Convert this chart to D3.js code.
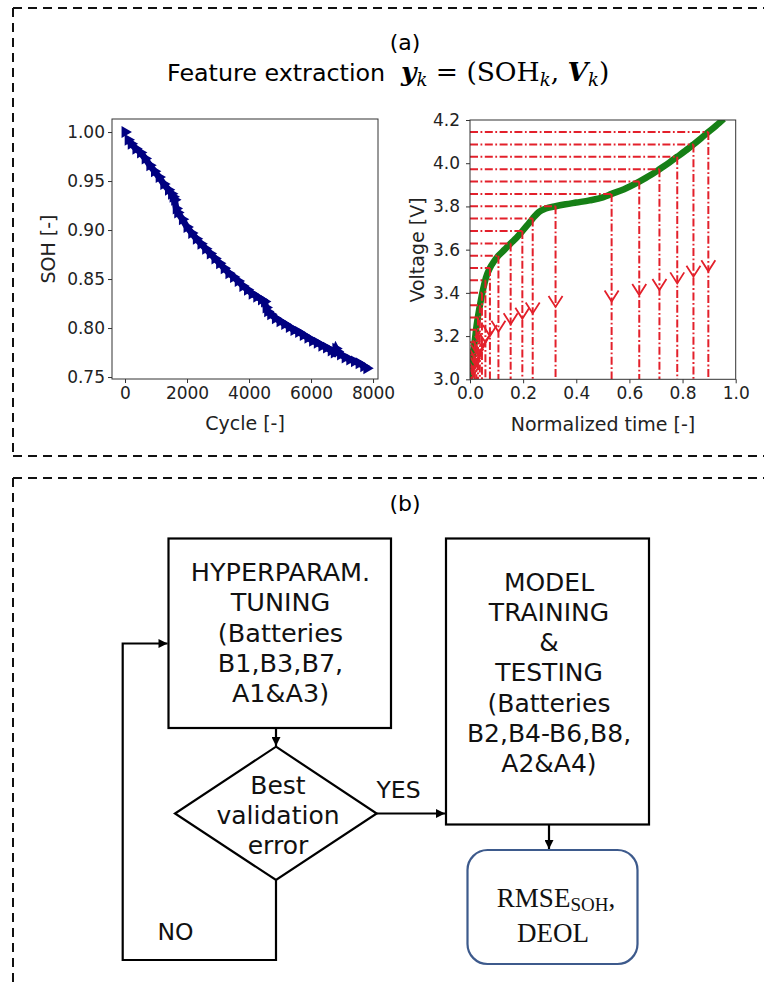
<!DOCTYPE html>
<html>
<head>
<meta charset="utf-8">
<script src="https://cdn.jsdelivr.net/npm/d3@7"></script>
<style>
  body { margin: 0; background: #fff; }
  text { font-family: "DejaVu Sans", sans-serif; }
  text.serif, text.serif tspan { font-family: "Liberation Serif", serif; }
  text.math, text.math tspan { font-family: "DejaVu Serif", serif; }
</style>
</head>
<body>
<div id="fig"></div>
<script>
// ------------------------- data ------------------------//

// (a) left : SOH vs cycle
var cycles = [0, 100, 200, 350, 500, 650, 800, 950, 1100, 1250, 1400, 1500, 1550, 1600, 1650, 1700,
  1850, 2000, 2150, 2300, 2450, 2600, 2750, 2900, 3050, 3200, 3350, 3500, 3650, 3800, 3950, 4100,
  4250, 4400, 4500, 4550, 4600, 4700, 4850, 5000, 5150, 5300, 5450, 5600, 5750, 5900, 6050, 6200,
  6350, 6500, 6650, 6750, 6800, 6850, 6950, 7100, 7250, 7400, 7550, 7700, 7800];
var soh = [1.000, 0.992, 0.988, 0.983, 0.979, 0.973, 0.966, 0.960, 0.954, 0.947, 0.941, 0.937, 0.934, 0.931, 0.922, 0.918,
  0.911, 0.903, 0.897, 0.891, 0.886, 0.881, 0.876, 0.871, 0.866, 0.861, 0.856, 0.852, 0.848, 0.843, 0.839, 0.835,
  0.832, 0.829, 0.827, 0.821, 0.817, 0.814, 0.810, 0.807, 0.804, 0.801, 0.798, 0.796, 0.793, 0.790, 0.787, 0.785,
  0.782, 0.780, 0.777, 0.775, 0.779, 0.776, 0.773, 0.770, 0.768, 0.766, 0.764, 0.761, 0.759];
var cycleTicks = [0, 2000, 4000, 6000, 8000];
var sohTicks = [0.75, 0.80, 0.85, 0.90, 0.95, 1.00];

// (a) right : charge voltage curve and the extracted V_k levels
var curveTime = [0.000, 0.005, 0.010, 0.015, 0.020, 0.025, 0.030, 0.040, 0.050, 0.060, 0.075, 0.090, 0.107,
  0.130, 0.153, 0.175, 0.197, 0.215, 0.236, 0.260, 0.285, 0.322, 0.360, 0.400, 0.450, 0.500, 0.533,
  0.580, 0.637, 0.680, 0.713, 0.750, 0.780, 0.810, 0.841, 0.870, 0.897, 0.925, 0.955];
var curveVolt = [3.00, 3.04, 3.10, 3.15, 3.20, 3.25, 3.29, 3.36, 3.42, 3.47, 3.515, 3.545, 3.572,
  3.600, 3.629, 3.655, 3.686, 3.712, 3.744, 3.775, 3.790, 3.801, 3.810, 3.818, 3.828, 3.842, 3.858,
  3.880, 3.915, 3.945, 3.972, 4.003, 4.030, 4.057, 4.087, 4.116, 4.144, 4.172, 4.205];
var levelVolt = [3.000, 3.057, 3.114, 3.172, 3.229, 3.286, 3.343, 3.400, 3.458, 3.515, 3.572,
  3.629, 3.686, 3.744, 3.801, 3.858, 3.915, 3.972, 4.030, 4.087, 4.144];
var levelTime = [0.003, 0.008, 0.013, 0.018, 0.024, 0.030, 0.037, 0.045, 0.058, 0.075, 0.107,
  0.153, 0.197, 0.236, 0.322, 0.533, 0.637, 0.713, 0.780, 0.841, 0.897];
var arrowTip = [3.00, 3.03, 3.05, 3.07, 3.09, 3.11, 3.13, 3.15, 3.17, 3.20, 3.22,
  3.255, 3.28, 3.305, 3.335, 3.36, 3.39, 3.413, 3.444, 3.475, 3.50];
var timeTicks = [0.0, 0.2, 0.4, 0.6, 0.8, 1.0];
var voltTicks = [3.0, 3.2, 3.4, 3.6, 3.8, 4.0, 4.2];

// (b) flowchart text
var tuningLines = ["HYPERPARAM.", "TUNING", "(Batteries", "B1,B3,B7,", "A1&A3)"];
var trainLines = ["MODEL", "TRAINING", "&", "TESTING", "(Batteries", "B2,B4-B6,B8,", "A2&A4)"];
var decisionLines = ["Best", "validation", "error"];

// ------------------------- svg init ------------------------//

var width = 764,
  height = 985;

var svg = d3.select("#fig").append("svg")
  .attr("width", width)
  .attr("height", height);

var defs = svg.append("defs");
defs.append("marker")
  .attr("id", "head")
  .attr("markerUnits", "userSpaceOnUse")
  .attr("viewBox", "0 0 10 10")
  .attr("refX", 10).attr("refY", 5)
  .attr("markerWidth", 11).attr("markerHeight", 9)
  .attr("orient", "auto")
  .append("path").attr("d", "M0,0 L10,5 L0,10 Z").attr("fill", "#000");

defs.append("clipPath").attr("id", "clipR")
  .append("rect").attr("x", 470).attr("y", 120).attr("width", 265.7).attr("height", 259.3);

// dashed panel borders
var dash = "9,6";
var borders = [
  [[13, 8], [764, 8]],
  [[13, 8], [13, 456]],
  [[13, 456], [764, 456]],
  [[13, 478], [764, 478]],
  [[13, 478], [13, 985]]
];
svg.selectAll(".border").data(borders).enter().append("path")
  .attr("class", "border")
  .attr("d", d3.line())
  .attr("stroke", "#111").attr("stroke-width", 2)
  .attr("stroke-dasharray", dash).attr("fill", "none");

// ------------------------- panel (a) titles ------------------------//

svg.append("text").attr("x", 405).attr("y", 50)
  .attr("text-anchor", "middle").attr("font-size", 22).text("(a)");

svg.append("text").attr("x", 167).attr("y", 81)
  .attr("font-size", 23.8).text("Feature extraction");

var math = svg.append("text").attr("class", "math").attr("x", 401).attr("y", 81)
  .attr("font-size", 26.5);
math.append("tspan").attr("font-weight", "bold").attr("font-style", "italic").text("y");
math.append("tspan").attr("font-style", "italic").attr("font-size", 18).attr("dy", 5).text("k");
math.append("tspan").attr("dy", -5).text(" = (SOH");
math.append("tspan").attr("font-style", "italic").attr("font-size", 18).attr("dy", 5).text("k");
math.append("tspan").attr("dy", -5).text(", ");
math.append("tspan").attr("font-weight", "bold").attr("font-style", "italic").text("V");
math.append("tspan").attr("font-style", "italic").attr("font-size", 18).attr("dy", 5).text("k");
math.append("tspan").attr("dy", -5).text(")");

function styleAxis(g) {
  g.select(".domain").remove();
  g.selectAll(".tick line").attr("stroke", "#333");
  g.selectAll(".tick text").attr("font-size", 17).attr("fill", "#222")
    .style("font-family", "'DejaVu Sans', sans-serif");
}

// ------------------------- left plot : SOH ------------------------//

var x1 = d3.scaleLinear().domain([-420, 8160]).range([112, 378]);
var y1 = d3.scaleLinear().domain([0.748, 1.0133]).range([379, 119]);

svg.append("g").attr("transform", "translate(0,379)")
  .call(d3.axisBottom(x1).tickValues(cycleTicks).tickFormat(d3.format("d")).tickSize(4).tickPadding(4).tickSizeOuter(0))
  .call(styleAxis);
svg.append("g").attr("transform", "translate(112,0)")
  .call(d3.axisLeft(y1).tickValues(sohTicks).tickFormat(d3.format(".2f")).tickSize(4).tickPadding(3).tickSizeOuter(0))
  .call(styleAxis);

var sohData = cycles.map(function (c, i) { return { c: c, s: soh[i] }; });

svg.append("path").datum(sohData.slice(1))
  .attr("d", d3.line().x(function (d) { return x1(d.c); }).y(function (d) { return y1(d.s); }))
  .attr("fill", "none").attr("stroke", "#000080").attr("stroke-width", 6.5);

svg.selectAll(".soh").data(sohData).enter().append("path")
  .attr("class", "soh")
  .attr("d", d3.symbol().type(d3.symbolTriangle).size(62))
  .attr("transform", function (d) { return "translate(" + x1(d.c) + "," + y1(d.s) + ") rotate(90)"; })
  .attr("fill", "#000080");

svg.append("rect").attr("x", 112).attr("y", 119).attr("width", 266).attr("height", 260)
  .attr("fill", "none").attr("stroke", "#333").attr("stroke-width", 1);

svg.append("text").attr("x", 245).attr("y", 430).attr("text-anchor", "middle")
  .attr("font-size", 19).attr("fill", "#222").text("Cycle [-]");
svg.append("text").attr("transform", "translate(48,249) rotate(-90)").attr("dy", "0.35em")
  .attr("text-anchor", "middle").attr("font-size", 19).attr("fill", "#222").text("SOH [-]");

// ------------------------- right plot : voltage ------------------------//

var x2 = d3.scaleLinear().domain([0, 1]).range([470, 735.7]);
var y2 = d3.scaleLinear().domain([3.0, 4.2]).range([379.3, 120]);

svg.append("g").attr("transform", "translate(0,379.3)")
  .call(d3.axisBottom(x2).tickValues(timeTicks).tickFormat(d3.format(".1f")).tickSize(4).tickPadding(4).tickSizeOuter(0))
  .call(styleAxis);
svg.append("g").attr("transform", "translate(470,0)")
  .call(d3.axisLeft(y2).tickValues(voltTicks).tickFormat(d3.format(".1f")).tickSize(4).tickPadding(6).tickSizeOuter(0))
  .call(styleAxis);

var plotR = svg.append("g").attr("clip-path", "url(#clipR)");

var curveData = curveTime.map(function (t, i) { return { t: t, v: curveVolt[i] }; });
plotR.append("path").datum(curveData)
  .attr("d", d3.line().curve(d3.curveMonotoneX)
    .x(function (d) { return x2(d.t); }).y(function (d) { return y2(d.v); }))
  .attr("fill", "none").attr("stroke", "#168016").attr("stroke-width", 6.5);

var levels = levelVolt.map(function (v, i) { return { v: v, t: levelTime[i], tip: arrowTip[i] }; });
var red = "#e3202b";

plotR.selectAll(".hline").data(levels).enter().append("line")
  .attr("class", "hline")
  .attr("x1", x2(0)).attr("x2", function (d) { return x2(d.t); })
  .attr("y1", function (d) { return y2(d.v); }).attr("y2", function (d) { return y2(d.v); })
  .attr("stroke", red).attr("stroke-width", 2).attr("stroke-dasharray", "8,2.5,1.8,2.5");

plotR.selectAll(".vline").data(levels).enter().append("line")
  .attr("class", "vline")
  .attr("x1", function (d) { return x2(d.t); }).attr("x2", function (d) { return x2(d.t); })
  .attr("y1", function (d) { return y2(d.v); }).attr("y2", y2(3.0))
  .attr("stroke", red).attr("stroke-width", 2).attr("stroke-dasharray", "8,2.5,1.8,2.5");

plotR.selectAll(".tip").data(levels).enter().append("path")
  .attr("class", "tip")
  .attr("d", function (d) {
    var px = x2(d.t), py = y2(d.tip);
    return "M" + (px - 7) + "," + (py - 11) + "L" + px + "," + py + "L" + (px + 7) + "," + (py - 11);
  })
  .attr("fill", "none").attr("stroke", red).attr("stroke-width", 1.8);

svg.append("rect").attr("x", 470).attr("y", 120).attr("width", 265.7).attr("height", 259.3)
  .attr("fill", "none").attr("stroke", "#333").attr("stroke-width", 1);

svg.append("text").attr("x", 603).attr("y", 431).attr("text-anchor", "middle")
  .attr("font-size", 19).attr("fill", "#222").text("Normalized time [-]");
svg.append("text").attr("transform", "translate(417,250) rotate(-90)").attr("dy", "0.35em")
  .attr("text-anchor", "middle").attr("font-size", 19).attr("fill", "#222").text("Voltage [V]");

// ------------------------- panel (b) flowchart ------------------------//

svg.append("text").attr("x", 405).attr("y", 511)
  .attr("text-anchor", "middle").attr("font-size", 22).text("(b)");

var fc = svg.append("g").attr("stroke", "#000").attr("stroke-width", 2.2).attr("fill", "none");

fc.append("rect").attr("x", 168.5).attr("y", 538.5).attr("width", 222.5).attr("height", 189.5);
fc.append("rect").attr("x", 446).attr("y", 538.5).attr("width", 203).attr("height", 286);
fc.append("path").attr("d", "M276,746.7 L376.7,813.5 L276,880 L175,813.5 Z");
fc.append("rect").attr("x", 467.5).attr("y", 850).attr("width", 170).attr("height", 114)
  .attr("rx", 20).attr("stroke", "#3d5a8c");

// arrows
var arrows = [
  [[276, 728], [276, 746]],
  [[376.7, 813.5], [445, 813.5]],
  [[549, 825], [549, 849]],
  [[276, 880], [276, 960], [122.7, 960], [122.7, 643.5], [167.5, 643.5]]
];
fc.selectAll(".arrow").data(arrows).enter().append("path")
  .attr("class", "arrow")
  .attr("d", d3.line())
  .attr("marker-end", "url(#head)");

function block(lines, cx, baselines, size) {
  svg.selectAll(null).data(lines).enter().append("text")
    .attr("x", cx).attr("y", function (d, i) { return baselines[i]; })
    .attr("text-anchor", "middle").attr("font-size", size).attr("fill", "#111")
    .text(function (d) { return d; });
}
block(tuningLines, 280.5, [581, 611, 641.5, 672, 702], 25.5);
block(trainLines, 549, [591, 621, 651, 681, 712, 742, 772], 25);
block(decisionLines, 278, [794, 824, 854], 25);

svg.append("text").attr("x", 398.5).attr("y", 798).attr("text-anchor", "middle")
  .attr("font-size", 23.5).attr("fill", "#111").text("YES");
svg.append("text").attr("x", 175.5).attr("y", 940).attr("text-anchor", "middle")
  .attr("font-size", 23.5).attr("fill", "#111").text("NO");

var rm = svg.append("text").attr("class", "serif").attr("x", 556).attr("y", 907)
  .attr("text-anchor", "middle").attr("font-size", 27).attr("fill", "#111");
rm.append("tspan").text("RMSE");
rm.append("tspan").attr("font-size", 19).attr("dy", 3.5).text("SOH");
rm.append("tspan").attr("dy", -3.5).text(",");
svg.append("text").attr("class", "serif").attr("x", 553).attr("y", 941.5)
  .attr("text-anchor", "middle").attr("font-size", 27).attr("fill", "#111")
  .text("DEOL");
</script>
</body>
</html>
